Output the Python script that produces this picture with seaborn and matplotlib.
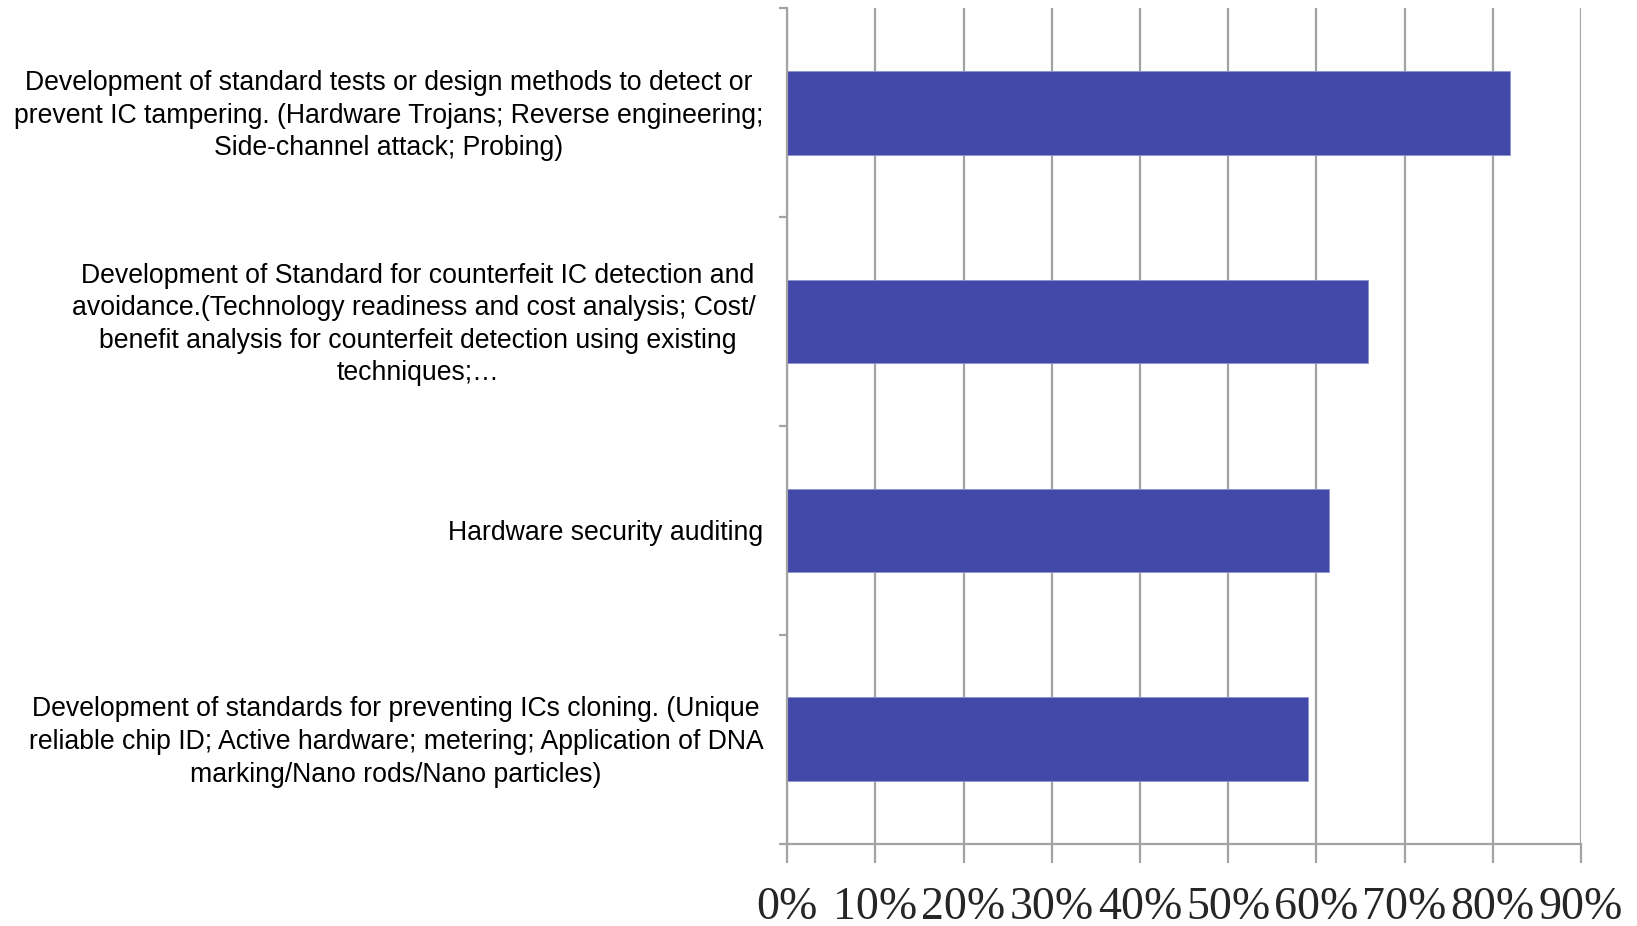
import matplotlib
matplotlib.use("Agg")
import matplotlib.pyplot as plt
import matplotlib.transforms as mtransforms
import seaborn as sns
import numpy as np
from matplotlib.ticker import FixedLocator

categories = [
    "Development of standard tests or design methods to detect or\n"
    "prevent IC tampering. (Hardware Trojans; Reverse engineering;\n"
    "Side-channel attack; Probing)",
    "Development of Standard for counterfeit IC detection and\n"
    "avoidance.(Technology readiness and cost analysis; Cost/ \n"
    "benefit analysis for counterfeit detection using existing\n"
    "techniques;\u2026",
    "Hardware security auditing",
    "Development of standards for preventing ICs cloning. (Unique\n"
    "reliable chip ID; Active hardware; metering; Application of DNA\n"
    "marking/Nano rods/Nano particles)",
]
shares = [0.819, 0.659, 0.614, 0.591]
x_ticks = [0.0, 0.1, 0.2, 0.3, 0.4, 0.5, 0.6, 0.7, 0.8, 0.9]
x_tick_labels = ["0%", "10%", "20%", "30%", "40%", "50%", "60%", "70%", "80%", "90%"]

bar_color = "#4349A8"
grid_color = "#A3A3A3"

sns.set_theme(style="white")
plt.rcParams["font.family"] = ["Liberation Sans", "DejaVu Sans"]

fig = plt.figure(figsize=(16.37, 9.26), dpi=100)
ax = fig.add_axes([0.4808, 0.0890, 0.9658 - 0.4808, 0.9909 - 0.0890])

sns.barplot(x=shares, y=categories, orient="h", color=bar_color,
            saturation=1, width=0.4, edgecolor="#8E92D0", linewidth=0.6, ax=ax)

ax.set_xlim(0, 0.9)
ax.set_ylim(3.5, -0.5)

# vertical gridlines behind the bars
ax.set_axisbelow(True)
ax.xaxis.grid(True, color=grid_color, linewidth=1.6)
ax.yaxis.grid(False)

ax.set_xticks(x_ticks)
ax.set_xticklabels(x_tick_labels, fontfamily="Liberation Serif", fontsize=33)
ax.tick_params(axis="x", direction="out", length=14, width=1.6,
               color=grid_color, pad=17, bottom=True)

# category labels centred on bars, tick marks at category boundaries
ax.tick_params(axis="y", which="major", length=0, pad=17, labelsize=19.2)
ax.yaxis.set_minor_locator(FixedLocator(np.arange(-0.5, 4.0, 1.0)))
ax.tick_params(axis="y", which="minor", direction="out", length=6,
               width=1.6, color=grid_color, left=True)
nudge = mtransforms.ScaledTranslation(0, 2.5 / 72, fig.dpi_scale_trans)
for lbl in ax.get_yticklabels():
    lbl.set_multialignment("center")
    lbl.set_linespacing(1.33)
    lbl.set_color("black")
    if "\n" in lbl.get_text():
        lbl.set_transform(lbl.get_transform() + nudge)

for side in ["top", "right"]:
    ax.spines[side].set_visible(False)
for side in ["left", "bottom"]:
    ax.spines[side].set_color(grid_color)
    ax.spines[side].set_linewidth(1.6)

ax.set_xlabel("")
ax.set_ylabel("")

fig.savefig("out.png", dpi=100)
